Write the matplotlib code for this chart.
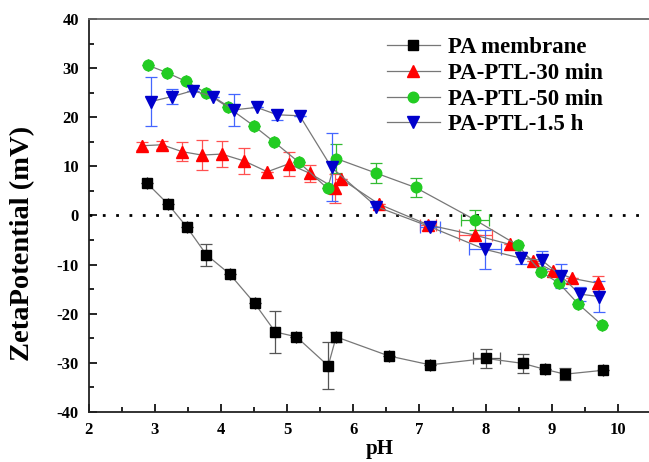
import numpy as np
import matplotlib.pyplot as plt
from matplotlib.ticker import MultipleLocator

plt.rcParams['font.family'] = ['Liberation Serif', 'DejaVu Serif']
plt.rcParams['font.weight'] = 'bold'
plt.rcParams['axes.unicode_minus'] = False

# PA membrane
ph_pa = [2.88, 3.20, 3.48, 3.78, 4.13, 4.51, 4.82, 5.14, 5.62, 5.74, 6.54, 7.16, 8.01, 8.56, 8.89, 9.20, 9.78]
zp_pa = [6.6, 2.3, -2.3, -8.0, -11.9, -17.9, -23.7, -24.7, -30.6, -24.7, -28.6, -30.4, -29.1, -30.1, -31.3, -32.3, -31.5]
ye_pa = [0, 0, 0, 2.2, 0, 0, 4.2, 0, 4.8, 1.0, 0, 0, 1.9, 2.0, 0, 1.2, 0]
xe_pa = [0, 0, 0, 0, 0, 0, 0, 0, 0, 0, 0, 0, 0.2, 0, 0, 0, 0]

# PA-PTL-30 min
ph_30 = [2.81, 3.11, 3.41, 3.71, 4.01, 4.35, 4.70, 5.02, 5.34, 5.73, 5.82, 6.39, 7.13, 7.84, 8.37, 8.72, 9.02, 9.31, 9.70]
zp_30 = [14.2, 14.4, 13.0, 12.3, 12.5, 11.1, 8.9, 10.5, 8.6, 5.5, 7.4, 2.3, -1.9, -4.0, -5.9, -9.2, -11.3, -12.8, -13.8]
ye_30 = [0.8, 0.8, 2.0, 3.0, 2.7, 2.7, 0, 2.5, 1.7, 3.0, 0, 0, 0.5, 0, 0, 0, 0, 0, 1.5]
xe_30 = [0, 0, 0, 0, 0, 0, 0, 0, 0, 0, 0, 0, 0.12, 0.25, 0, 0, 0, 0, 0]

# PA-PTL-50 min
ph_50 = [2.89, 3.18, 3.47, 3.78, 4.11, 4.50, 4.80, 5.18, 5.61, 5.74, 6.35, 6.94, 7.84, 8.49, 8.83, 9.11, 9.40, 9.76]
zp_50 = [30.6, 29.1, 27.3, 24.9, 22.0, 18.2, 15.0, 10.8, 5.5, 11.6, 8.6, 5.7, -0.9, -6.1, -11.4, -13.8, -18.0, -22.3]
ye_50 = [0, 0, 0, 0, 0, 0, 0, 0, 0, 3.0, 2.0, 1.9, 2.0, 0, 0, 0, 0, 0]
xe_50 = [0, 0, 0, 0, 0, 0, 0, 0, 0, 0, 0, 0, 0.21, 0, 0, 0, 0, 0]

# PA-PTL-1.5 h
ph_15 = [2.94, 3.26, 3.57, 3.88, 4.19, 4.54, 4.85, 5.19, 5.67, 6.35, 7.16, 7.99, 8.54, 8.85, 9.14, 9.42, 9.72]
zp_15 = [23.2, 24.2, 25.4, 24.2, 21.5, 22.0, 20.5, 20.3, 9.8, 1.8, -2.3, -6.9, -8.7, -9.1, -12.3, -16.0, -16.5]
ye_15 = [5.0, 1.5, 0, 0, 3.2, 0, 1.0, 0, 6.9, 0, 0, 4.0, 1.2, 1.8, 2.4, 1.5, 3.2]
xe_15 = [0, 0, 0, 0, 0, 0, 0, 0, 0, 0, 0.15, 0.24, 0, 0, 0, 0, 0]

series = [
    (ph_pa, zp_pa, ye_pa, xe_pa, 'PA membrane', 's', 'black', '#555555', 7.4),
    (ph_30, zp_30, ye_30, xe_30, 'PA-PTL-30 min', '^', 'red', '#ff5050', 8.2),
    (ph_50, zp_50, ye_50, xe_50, 'PA-PTL-50 min', 'o', '#22cc22', '#33bb33', 7.6),
    (ph_15, zp_15, ye_15, xe_15, 'PA-PTL-1.5 h', 'v', '#0000cc', '#4466ff', 8.2),
]

fig = plt.figure(figsize=(6.49, 4.62), dpi=100)
# axes run past the right edge of the picture, as in the cropped original
ax = fig.add_axes([0.1367, 0.1082, 0.897, 0.8507])

ax.axhline(0, color='black', lw=2, dashes=[1, 3.8], zorder=1)

for x, y, ye, xe, lab, m, c, ec, ms in series:
    ax.errorbar(x, y, yerr=ye, xerr=xe, fmt='none', ecolor=ec, elinewidth=0.9,
                capsize=4, capthick=0.9, zorder=2)
    ax.plot(x, y, color='#777777', lw=0.9, marker=m, ms=ms, mfc=c, mec=c,
            label=lab, zorder=3)

ax.set_xlim(2, 10.8)
ax.set_ylim(-40, 40)
ax.xaxis.set_major_locator(MultipleLocator(1))
ax.xaxis.set_minor_locator(MultipleLocator(0.5))
ax.yaxis.set_major_locator(MultipleLocator(10))
ax.yaxis.set_minor_locator(MultipleLocator(5))
ax.tick_params(which='major', direction='in', length=6, width=1.2, labelsize=12, pad=7)
ax.tick_params(which='minor', direction='in', length=3.5, width=1.2)
for lbl in ax.get_xticklabels() + ax.get_yticklabels():
    lbl.set_fontweight('bold')

ax.spines['right'].set_visible(False)
for s in ['left', 'bottom']:
    ax.spines[s].set_linewidth(1.3)
    ax.spines[s].set_color('#222222')
ax.spines['top'].set_linewidth(1.3)
ax.spines['top'].set_color('#666666')

ax.set_xlabel('pH', fontsize=15, fontweight='bold', labelpad=1)
ax.set_ylabel('ZetaPotential (mV)', fontsize=20.5, fontweight='bold')
ax.yaxis.set_label_coords(-0.092, 0.43)

leg = ax.legend(loc='upper left', bbox_to_anchor=(0.481, 1.0), frameon=False,
                handlelength=2.3, handletextpad=0.35, borderpad=0.3,
                labelspacing=0.2, numpoints=1, prop={'weight': 'bold', 'size': 16.5})

fig.savefig('out.png', dpi=100)
